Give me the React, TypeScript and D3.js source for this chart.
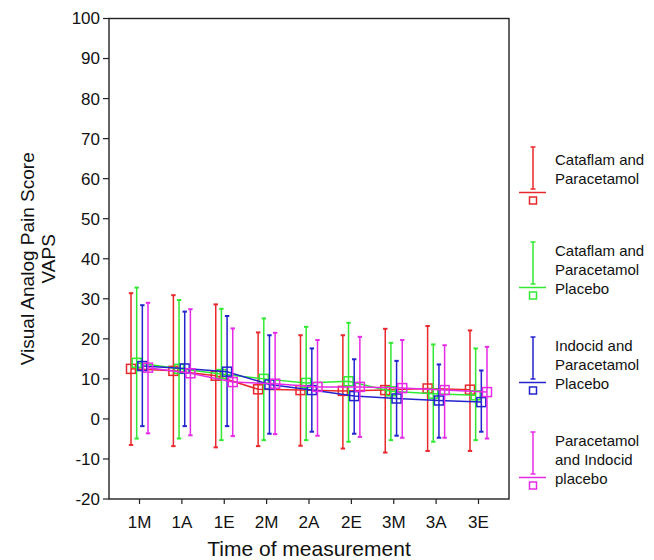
import React from 'react'
import * as d3 from 'd3'

const categories = ['1M', '1A', '1E', '2M', '2A', '2E', '3M', '3A', '3E']
const yTicks = [-20, -10, 0, 10, 20, 30, 40, 50, 60, 70, 80, 90, 100]

const groupNames = ['cataflam', 'cataflamPlacebo', 'indocidPlacebo', 'paracetamolPlacebo']
const groupColors = ['#e8282c', '#33e833', '#2323cf', '#e62be6']
const groupLabels = [
  ['Cataflam and', 'Paracetamol'],
  ['Cataflam and', 'Paracetamol', 'Placebo'],
  ['Indocid and', 'Paracetamol', 'Placebo'],
  ['Paracetamol', 'and Indocid', 'placebo'],
]

// means and error bar ends per group
const cataflamMean = [12.5, 12.0, 10.8, 7.4, 7.2, 7.0, 7.2, 7.6, 7.3]
const cataflamHigh = [31.4, 30.9, 28.6, 21.6, 20.9, 20.9, 22.5, 23.2, 22.1]
const cataflamLow = [-6.5, -6.8, -7.1, -6.8, -6.7, -7.4, -8.4, -8.0, -8.0]

const cataflamPlaceboMean = [14.0, 12.5, 11.2, 10.0, 9.0, 9.4, 6.9, 6.3, 5.9]
const cataflamPlaceboHigh = [32.8, 29.7, 27.5, 25.1, 23.0, 24.0, 19.0, 18.6, 17.6]
const cataflamPlaceboLow = [-4.9, -4.9, -5.3, -5.3, -5.3, -5.7, -5.3, -5.7, -5.3]

const indocidPlaceboMean = [13.2, 12.6, 11.8, 8.6, 7.2, 5.7, 5.1, 4.6, 4.2]
const indocidPlaceboHigh = [28.4, 26.8, 25.7, 20.9, 17.6, 14.9, 14.5, 13.6, 12.1]
const indocidPlaceboLow = [-1.8, -1.8, -1.8, -3.7, -3.2, -3.7, -4.2, -4.7, -3.2]

const paracetamolPlaceboMean = [12.8, 11.4, 9.2, 8.8, 8.0, 8.0, 7.7, 7.2, 6.7]
const paracetamolPlaceboHigh = [29.0, 27.4, 22.6, 21.5, 19.7, 20.5, 19.7, 18.4, 18.0]
const paracetamolPlaceboLow = [-3.6, -4.1, -4.3, -3.8, -4.2, -4.5, -4.7, -4.7, -4.9]

const means = [cataflamMean, cataflamPlaceboMean, indocidPlaceboMean, paracetamolPlaceboMean]
const highs = [cataflamHigh, cataflamPlaceboHigh, indocidPlaceboHigh, paracetamolPlaceboHigh]
const lows = [cataflamLow, cataflamPlaceboLow, indocidPlaceboLow, paracetamolPlaceboLow]

const W = 654
const H = 560
const plot = { left: 109, right: 509, top: 18.5, bottom: 499 }
const font = '"Liberation Sans", Arial, sans-serif'

export default function App() {
  const x = d3.scalePoint<string>().domain(categories).range([plot.left, plot.right]).padding(0.72)
  const offset = d3.scalePoint<string>().domain(groupNames).range([-8.5, 8.5])
  const y = d3.scaleLinear().domain([-20, 100]).range([plot.bottom, plot.top])

  const line = d3
    .line<number>()
    .x((_, i) => x(categories[i])!)
    .y((d) => y(d))

  const cap = 2.2
  const sq = 9

  return (
    <svg
      width={W}
      height={H}
      style={{ position: 'absolute', left: 0, top: 0, background: '#fff' }}
      fontFamily={font}
    >
      {/* frame */}
      <rect
        x={plot.left}
        y={plot.top}
        width={plot.right - plot.left}
        height={plot.bottom - plot.top}
        fill="none"
        stroke="#222"
        strokeWidth={1.4}
      />

      {/* y axis */}
      {yTicks.map((t) => (
        <g key={t} transform={`translate(0,${y(t)})`}>
          <line x1={plot.left - 6} x2={plot.left} stroke="#222" strokeWidth={1.2} />
          <text x={plot.left - 9} dy="0.35em" textAnchor="end" fontSize={17} fill="#111">
            {t}
          </text>
        </g>
      ))}

      {/* x axis */}
      {categories.map((c) => (
        <g key={c} transform={`translate(${x(c)},0)`}>
          <line y1={plot.bottom} y2={plot.bottom + 5} stroke="#222" strokeWidth={1.2} />
          <text y={plot.bottom + 29} textAnchor="middle" fontSize={17} fill="#111">
            {c}
          </text>
        </g>
      ))}

      <text x={(plot.left + plot.right) / 2} y={556} textAnchor="middle" fontSize={21} fill="#111">
        Time of measurement
      </text>
      <g transform={`translate(0,${(plot.top + plot.bottom) / 2}) rotate(-90)`}>
        <text x={0} y={34} textAnchor="middle" fontSize={19} fill="#111">
          Visual Analog Pain Score
        </text>
        <text x={0} y={55} textAnchor="middle" fontSize={19} fill="#111">
          VAPS
        </text>
      </g>

      {/* series */}
      {groupNames.map((g, gi) => {
        const dx = offset(g)!
        const color = groupColors[gi]
        return (
          <g key={g} transform={`translate(${dx},0)`} stroke={color} fill="none" strokeWidth={1.5}>
            <path d={line(means[gi]) ?? ''} />
            {categories.map((c, i) => {
              const cx = x(c)!
              return (
                <g key={c}>
                  <line x1={cx} x2={cx} y1={y(highs[gi][i])} y2={y(lows[gi][i])} />
                  <line x1={cx - cap} x2={cx + cap} y1={y(highs[gi][i])} y2={y(highs[gi][i])} strokeWidth={2} />
                  <line x1={cx - cap} x2={cx + cap} y1={y(lows[gi][i])} y2={y(lows[gi][i])} strokeWidth={2} />
                  <rect x={cx - sq / 2} y={y(means[gi][i]) - sq / 2} width={sq} height={sq} />
                </g>
              )
            })}
          </g>
        )
      })}

      {/* legend */}
      {groupNames.map((g, gi) => {
        const top = 147 + gi * 95
        const color = groupColors[gi]
        const textTop = gi === 0 ? top + 18 : top + 14
        return (
          <g key={g}>
            <g stroke={color} fill="none" strokeWidth={1.5}>
              <line x1={533} x2={533} y1={top} y2={top + 42} />
              <line x1={530.5} x2={535.5} y1={top} y2={top} />
              <line x1={530.5} x2={535.5} y1={top + 42} y2={top + 42} />
              <line x1={519} x2={546} y1={top + 45.5} y2={top + 45.5} />
              <rect x={529.5} y={top + 50} width={7} height={7} />
            </g>
            {groupLabels[gi].map((t, li) => (
              <text key={li} x={555} y={textTop + li * 19} fontSize={15} fill="#111">
                {t}
              </text>
            ))}
          </g>
        )
      })}
    </svg>
  )
}
